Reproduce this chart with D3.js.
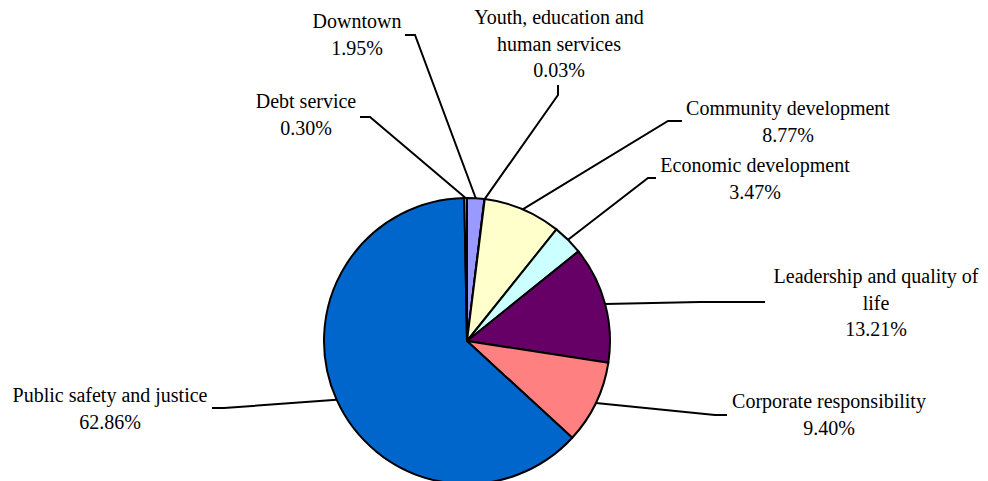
<!DOCTYPE html>
<html>
  <head>
    <style>
      body { margin: 0; background: #fff; }
    </style>
  </head>
  <body>
    <svg width="988" height="481"></svg>
    <script src="https://d3js.org/d3.v7.min.js"></script>
    <script>
      // slices in drawing order, clockwise from 12 o'clock
      var categories = [
        "Downtown",
        "Youth, education and human services",
        "Community development",
        "Economic development",
        "Leadership and quality of life",
        "Corporate responsibility",
        "Public safety and justice",
        "Debt service"
      ];
      var values = [1.95, 0.03, 8.77, 3.47, 13.21, 9.40, 62.86, 0.30];
      var colors = ["#9999FF", "#993366", "#FFFFCC", "#CCFFFF", "#660066", "#FF8080", "#0066CC", "#CCCCFF"];

      // label text split into lines as in the original
      var labelLines = [
        ["Downtown"],
        ["Youth, education and", "human services"],
        ["Community development"],
        ["Economic development"],
        ["Leadership and quality of", "life"],
        ["Corporate responsibility"],
        ["Public safety and justice"],
        ["Debt service"]
      ];

      // label layout: text centre x, first baseline y, leader line start points
      var labelLayout = [
        { x: 357, y: 28, lead: [[405, 35], [415, 35]] },
        { x: 559, y: 24, lead: [[558, 85], [558, 95]] },
        { x: 788, y: 115, lead: [[682, 121], [668, 121]] },
        { x: 755, y: 172, lead: [[656, 178], [648, 178]] },
        { x: 876, y: 283, lead: [[765, 302], [700, 302]] },
        { x: 829, y: 408, lead: [[727, 415], [715, 415]] },
        { x: 110, y: 402, lead: [[212, 408], [224, 408]] },
        { x: 306, y: 108, lead: [[360, 117], [370, 117]] }
      ];

      var svg = d3.select("svg"),
        cx = 467,
        cy = 341,
        radius = 143,
        lineH = 26.5;

      var data = categories.map(function(c, i) {
        return { name: c, value: values[i], color: colors[i], lines: labelLines[i], layout: labelLayout[i] };
      });

      var pie = d3.pie().sort(null).value(function(d) { return d.value; });
      var arcs = pie(data);

      var path = d3.arc().innerRadius(0).outerRadius(radius);
      var edge = d3.arc().innerRadius(radius).outerRadius(radius);

      var g = svg.append("g").attr("transform", "translate(" + cx + "," + cy + ")");

      g.selectAll(".slice")
        .data(arcs)
        .enter()
        .append("path")
        .attr("class", "slice")
        .attr("d", path)
        .attr("fill", function(d) { return d.data.color; })
        .attr("stroke", "#000")
        .attr("stroke-width", 2)
        .attr("stroke-linejoin", "round");

      // leader lines
      var line = d3.line();
      svg.selectAll(".leader")
        .data(arcs)
        .enter()
        .append("path")
        .attr("class", "leader")
        .attr("fill", "none")
        .attr("stroke", "#000")
        .attr("stroke-width", 2)
        .attr("d", function(d) {
          var c = edge.centroid(d);
          var pts = d.data.layout.lead.concat([[cx + c[0], cy + c[1]]]);
          return line(pts);
        });

      // labels
      var lab = svg.selectAll(".label")
        .data(arcs)
        .enter()
        .append("text")
        .attr("class", "label")
        .attr("font-family", "'Liberation Serif', 'DejaVu Serif', 'Times New Roman', Times, serif")
        .attr("font-size", 20)
        .attr("fill", "#000")
        .attr("text-anchor", "middle");

      lab.each(function(d) {
        var t = d3.select(this);
        var rows = d.data.lines.concat([d.data.value.toFixed(2) + "%"]);
        rows.forEach(function(r, i) {
          t.append("tspan")
            .attr("x", d.data.layout.x)
            .attr("y", d.data.layout.y + i * lineH)
            .text(r);
        });
      });
    </script>
  </body>
</html>
